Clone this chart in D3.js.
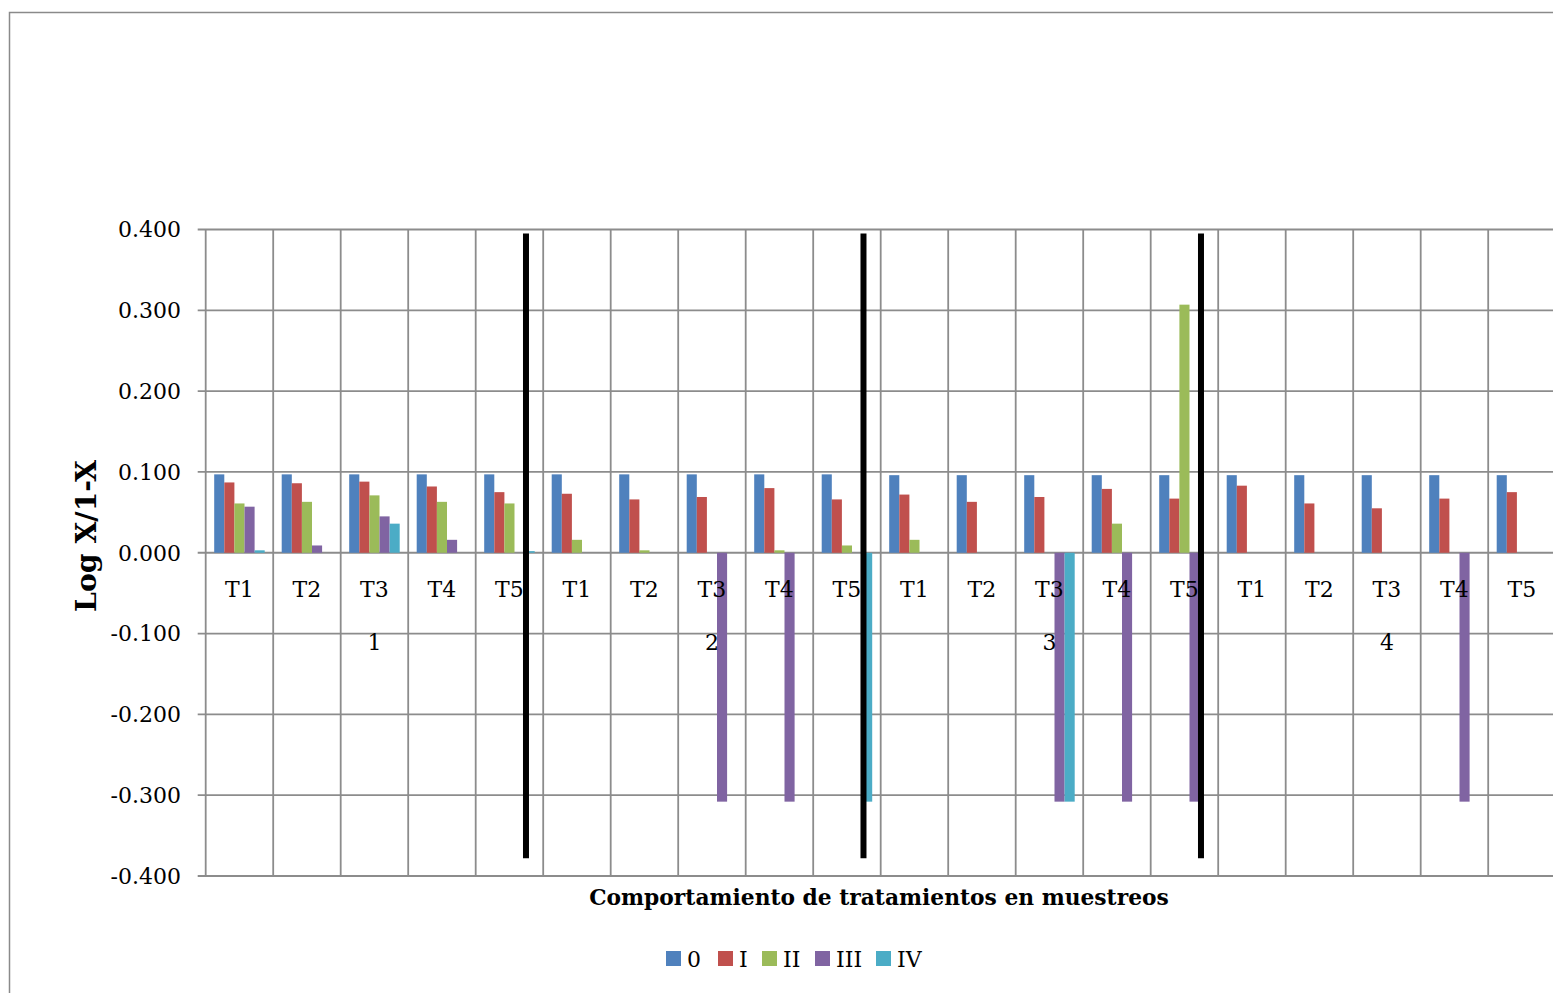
<!DOCTYPE html>
<html>
<head>
<meta charset="utf-8">
<script src="https://cdn.jsdelivr.net/npm/d3@7"></script>
<style>
  html, body { margin: 0; padding: 0; background: #fff; }
  svg { display: block; }
  text { font-family: "DejaVu Serif", "Liberation Serif", serif; fill: #000; }
</style>
</head>
<body>
<svg id="chart" width="1553" height="993"></svg>
<script>
// Sampling rounds (muestreos) and treatments
const groups = ["1", "2", "3", "4"];
const treatments = ["T1", "T2", "T3", "T4", "T5"];
const seriesNames = ["0", "I", "II", "III", "IV"];
const seriesColors = ["#4F81BD", "#C0504D", "#9BBB59", "#8064A2", "#4BACC6"];

// Log X/1-X per treatment, 20 values each (round 1 T1..T5, round 2 T1..T5, ...)
const values0 = [0.097, 0.097, 0.097, 0.097, 0.097, 0.097, 0.097, 0.097, 0.097, 0.097,
                 0.096, 0.096, 0.096, 0.096, 0.096, 0.096, 0.096, 0.096, 0.096, 0.096];
const valuesI = [0.087, 0.086, 0.088, 0.082, 0.075, 0.073, 0.066, 0.069, 0.080, 0.066,
                 0.072, 0.063, 0.069, 0.079, 0.067, 0.083, 0.061, 0.055, 0.067, 0.075];
const valuesII = [0.061, 0.063, 0.071, 0.063, 0.061, 0.016, 0.003, 0, 0.003, 0.009,
                  0.016, 0, 0, 0.036, 0.307, 0, 0, 0, 0, 0];
const valuesIII = [0.057, 0.009, 0.045, 0.016, 0, 0, 0, -0.308, -0.308, 0,
                   0, 0, -0.308, -0.308, -0.308, 0, 0, 0, -0.308, 0];
const valuesIV = [0.003, 0, 0.036, 0, 0.002, 0, 0, 0, 0, -0.308,
                  0, 0, -0.308, 0, 0, 0, 0, 0, 0, 0];
const seriesValues = [values0, valuesI, valuesII, valuesIII, valuesIV];

// Vertical divider lines between sampling rounds (at the T5 slot of rounds 1-3)
const dividerCategories = [4, 9, 14];
const dividerTop = 0.395;
const dividerBottom = -0.378;

const yTicks = [0.4, 0.3, 0.2, 0.1, 0, -0.1, -0.2, -0.3, -0.4];

const categories = [];
groups.forEach(g => treatments.forEach(t => categories.push(g + "|" + t)));

const svg = d3.select("#chart");

// Outer chart border
svg.append("rect")
  .attr("x", 9.5).attr("y", 12.5)
  .attr("width", 1700).attr("height", 1100)
  .attr("fill", "none").attr("stroke", "#8a8a8a").attr("stroke-width", 1.5);

const plotLeft = 205.7, plotRight = 1555.7, plotTop = 229.5, plotBottom = 876;

const x = d3.scaleBand().domain(categories).range([plotLeft, plotRight]).padding(0);
const xs = d3.scaleBand().domain(seriesNames).range([8.5, x.bandwidth() - 8.5]).padding(0);
const y = d3.scaleLinear().domain([-0.4, 0.4]).range([plotBottom, plotTop]);

const grid = svg.append("g");
// Horizontal gridlines with tick marks
yTicks.forEach(v => {
  grid.append("line")
    .attr("x1", plotLeft - 8).attr("x2", 1553)
    .attr("y1", y(v)).attr("y2", y(v))
    .attr("stroke", "#8c8c8c").attr("stroke-width", 1.8);
});
// Vertical category gridlines
d3.range(categories.length + 1).forEach(i => {
  const xv = plotLeft + i * x.bandwidth();
  grid.append("line")
    .attr("x1", xv).attr("x2", xv)
    .attr("y1", plotTop).attr("y2", plotBottom)
    .attr("stroke", "#8c8c8c").attr("stroke-width", 1.8);
});

// Y tick labels
svg.append("g").selectAll("text").data(yTicks).join("text")
  .attr("x", 181).attr("y", d => y(d))
  .attr("dy", "0.36em")
  .attr("text-anchor", "end")
  .attr("font-size", 22)
  .text(d => d3.format(".3f")(d).replace("−", "-"));

// Bars
const barsG = svg.append("g");
seriesNames.forEach((s, si) => {
  barsG.append("g").selectAll("rect")
    .data(seriesValues[si].map((v, i) => ({ v, c: categories[i] })).filter(d => d.v !== 0))
    .join("rect")
    .attr("x", d => x(d.c) + xs(s))
    .attr("width", xs.bandwidth())
    .attr("y", d => y(Math.max(0, d.v)))
    .attr("height", d => Math.abs(y(d.v) - y(0)))
    .attr("fill", seriesColors[si]);
});

// Round dividers
svg.append("g").selectAll("line").data(dividerCategories).join("line")
  .attr("x1", d => x(categories[d]) + x.bandwidth() * 0.745)
  .attr("x2", d => x(categories[d]) + x.bandwidth() * 0.745)
  .attr("y1", y(dividerTop)).attr("y2", y(dividerBottom))
  .attr("stroke", "#000").attr("stroke-width", 6);

// Treatment labels
svg.append("g").selectAll("text").data(categories).join("text")
  .attr("x", d => x(d) + x.bandwidth() / 2)
  .attr("y", 597)
  .attr("text-anchor", "middle")
  .attr("font-size", 22)
  .text(d => d.split("|")[1]);

// Round labels centred under T3
svg.append("g").selectAll("text").data(groups).join("text")
  .attr("x", g => x(g + "|T3") + x.bandwidth() / 2)
  .attr("y", 650)
  .attr("text-anchor", "middle")
  .attr("font-size", 22)
  .text(g => g);

// Fit a bold title to a given span
function fitText(sel, span) {
  const w = sel.node().getComputedTextLength();
  const fs = parseFloat(sel.attr("font-size"));
  sel.attr("font-size", fs * span / w);
}

// Axis titles
const xTitle = svg.append("text")
  .attr("x", 879).attr("y", 905)
  .attr("text-anchor", "middle")
  .attr("font-size", 20).attr("font-weight", "bold")
  .text("Comportamiento de tratamientos en muestreos");
fitText(xTitle, 580);

const yTitle = svg.append("text")
  .attr("transform", "translate(96,536) rotate(-90)")
  .attr("text-anchor", "middle")
  .attr("font-size", 20).attr("font-weight", "bold")
  .text("Log X/1-X");
fitText(yTitle, 152);

// Legend
const legendX = [666, 718, 762, 815, 876];
const legend = svg.append("g");
seriesNames.forEach((s, i) => {
  legend.append("rect")
    .attr("x", legendX[i]).attr("y", 951)
    .attr("width", 15).attr("height", 15)
    .attr("fill", seriesColors[i]);
  legend.append("text")
    .attr("x", legendX[i] + 21).attr("y", 967)
    .attr("font-size", 22)
    .text(s);
});
</script>
</body>
</html>
